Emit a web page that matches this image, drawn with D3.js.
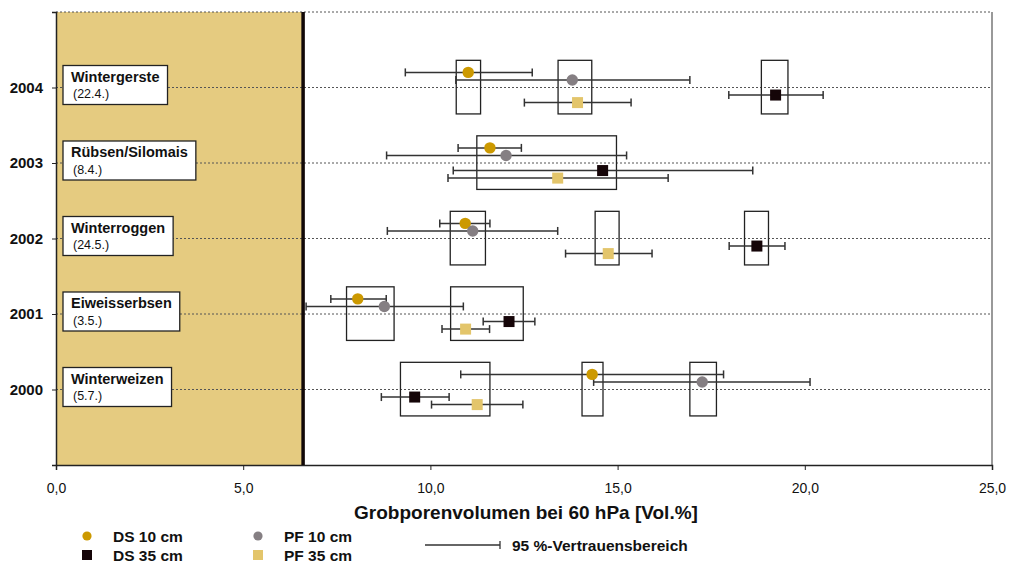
<!DOCTYPE html>
<html><head><meta charset="utf-8">
<script src="https://cdn.jsdelivr.net/npm/d3@7"></script>
<style>body{margin:0;background:#fff}svg{display:block;font-family:"Liberation Sans",Arial,Helvetica,sans-serif}</style>
</head><body><svg id="c" width="1009" height="563"></svg>
<script>
const years = [2000, 2001, 2002, 2003, 2004];
const crops = ["Winterweizen", "Eiweisserbsen", "Winterroggen", "Rübsen/Silomais", "Wintergerste"];
const dates = ["(5.7.)", "(3.5.)", "(24.5.)", "(8.4.)", "(22.4.)"];

const ds10   = [14.32, 8.06, 10.93, 11.59, 11.01];
const ds10Lo = [10.81, 7.34, 10.25, 10.74, 9.33];
const ds10Hi = [17.83, 8.82, 11.59, 12.43, 12.72];
const pf10   = [17.26, 8.77, 11.13, 12.02, 13.79];
const pf10Lo = [14.36, 6.68, 8.85, 8.83, 10.68];
const pf10Hi = [20.14, 10.88, 13.40, 15.24, 16.93];
const ds35   = [9.58, 12.10, 18.72, 14.60, 19.22];
const ds35Lo = [8.69, 11.41, 17.98, 10.61, 17.97];
const ds35Hi = [10.50, 12.79, 19.47, 18.61, 20.49];
const pf35   = [11.25, 10.94, 14.75, 13.40, 13.93];
const pf35Lo = [10.03, 10.31, 13.61, 10.47, 12.51];
const pf35Hi = [12.47, 11.58, 15.92, 16.35, 15.36];

const boxYear = [2000, 2000, 2000, 2001, 2001, 2002, 2002, 2002, 2003, 2004, 2004, 2004];
const boxLo   = [9.20, 14.05, 16.93, 7.76, 10.54, 10.53, 14.40, 18.39, 11.24, 10.69, 13.41, 18.84];
const boxHi   = [11.59, 14.61, 17.64, 9.03, 12.48, 11.47, 15.04, 19.03, 14.97, 11.34, 14.31, 19.55];

const threshold = 6.6;
const xTicks = [0, 5, 10, 15, 20, 25];
const xTickLabels = ["0,0", "5,0", "10,0", "15,0", "20,0", "25,0"];
const xTitle = "Grobporenvolumen bei 60 hPa [Vol.%]";
const seriesNames = ["DS 10 cm", "PF 10 cm", "DS 35 cm", "PF 35 cm"];
const ciLabel = "95 %-Vertrauensbereich";

const svg = d3.select("#c");
const L = 56, R = 992, T = 12, B = 465;
const x = d3.scaleLinear().domain([0, 25]).range([L, R]);
const y = d3.scaleLinear().domain([1999, 2005]).range([B, T]);

const colors = {ds10: "#CC9900", pf10: "#857F83", ds35: "#150508", pf35: "#E3C56B"};
const series = [
  {key: "ds10", v: ds10, lo: ds10Lo, hi: ds10Hi, off: 0.2, shape: "circle"},
  {key: "pf10", v: pf10, lo: pf10Lo, hi: pf10Hi, off: 0.1, shape: "circle"},
  {key: "ds35", v: ds35, lo: ds35Lo, hi: ds35Hi, off: -0.1, shape: "square"},
  {key: "pf35", v: pf35, lo: pf35Lo, hi: pf35Hi, off: -0.2, shape: "square"}
];

// shaded region
svg.append("rect").attr("x", x(0)).attr("y", T).attr("width", x(threshold) - x(0)).attr("height", B - T).attr("fill", "#E5CB80");

// grid lines
svg.append("g").selectAll("line").data(years.concat([2005])).join("line")
  .attr("x1", L).attr("x2", R).attr("y1", d => y(d)).attr("y2", d => y(d))
  .attr("stroke", "#555").attr("stroke-width", 1).attr("stroke-dasharray", "2,2");

// right border
svg.append("line").attr("x1", R).attr("x2", R).attr("y1", T).attr("y2", B).attr("stroke", "#777").attr("stroke-width", 1.5);

// axes
const xAxis = d3.axisBottom(x).tickValues(xTicks).tickSize(5).tickPadding(13).tickFormat((d, i) => xTickLabels[i]);
const gx = svg.append("g").attr("transform", `translate(0,${B})`).call(xAxis);
gx.select(".domain").attr("stroke", "#222").attr("stroke-width", 1.5);
gx.selectAll(".tick line").attr("stroke", "#222");
gx.selectAll("text").attr("font-size", 14).attr("fill", "#111").attr("font-family", "Liberation Sans, Arial, sans-serif");

const yAxis = d3.axisLeft(y).tickValues([1999].concat(years).concat([2005])).tickSize(4).tickPadding(9)
  .tickFormat(d => years.includes(d) ? String(d) : "");
const gy = svg.append("g").attr("transform", `translate(${L},0)`).call(yAxis);
gy.select(".domain").attr("stroke", "#222").attr("stroke-width", 1.5);
gy.selectAll(".tick line").attr("stroke", "#222");
gy.selectAll("text").attr("font-size", 15).attr("font-weight", "bold").attr("fill", "#111").attr("font-family", "Liberation Sans, Arial, sans-serif");

// threshold line
svg.append("line").attr("x1", x(threshold)).attr("x2", x(threshold)).attr("y1", T).attr("y2", B).attr("stroke", "#110808").attr("stroke-width", 3.5);

// group boxes
svg.append("g").selectAll("rect").data(boxYear).join("rect")
  .attr("x", (d, i) => x(boxLo[i])).attr("width", (d, i) => x(boxHi[i]) - x(boxLo[i]))
  .attr("y", d => y(d + 0.36)).attr("height", d => y(d - 0.35) - y(d + 0.36))
  .attr("fill", "none").attr("stroke", "#222").attr("stroke-width", 1.3);

// error bars
const eg = svg.append("g").attr("stroke", "#333").attr("stroke-width", 1.5);
series.forEach(s => {
  years.forEach((yr, i) => {
    const yy = y(yr + s.off);
    eg.append("line").attr("x1", x(s.lo[i])).attr("x2", x(s.hi[i])).attr("y1", yy).attr("y2", yy);
    eg.append("line").attr("x1", x(s.lo[i])).attr("x2", x(s.lo[i])).attr("y1", yy - 4).attr("y2", yy + 4);
    eg.append("line").attr("x1", x(s.hi[i])).attr("x2", x(s.hi[i])).attr("y1", yy - 4).attr("y2", yy + 4);
  });
});

// markers
series.forEach(s => {
  const g = svg.append("g").attr("fill", colors[s.key]);
  if (s.shape === "circle") {
    g.selectAll("circle").data(years).join("circle")
      .attr("cx", (d, i) => x(s.v[i])).attr("cy", d => y(d + s.off)).attr("r", 5.7);
  } else {
    g.selectAll("rect").data(years).join("rect")
      .attr("x", (d, i) => x(s.v[i]) - 5.5).attr("y", d => y(d + s.off) - 5.5).attr("width", 11).attr("height", 11);
  }
});

// crop labels
years.forEach((yr, i) => {
  const g = svg.append("g");
  const top = y(yr) - 22;
  const rect = g.append("rect").attr("x", 63).attr("y", top).attr("height", 39)
    .attr("fill", "#fff").attr("stroke", "#222").attr("stroke-width", 1.3);
  const t = g.append("text").attr("y", top + 16).attr("font-size", 14.5).attr("font-weight", "bold").attr("fill", "#111").text(crops[i]);
  const w = t.node().getBBox().width;
  const bw = w + 16;
  rect.attr("width", bw);
  t.attr("x", 63 + bw / 2).attr("text-anchor", "middle");
  g.append("text").attr("x", 73).attr("y", top + 32.5).attr("font-size", 12.5).attr("fill", "#111").text(dates[i]);
});

// x title
svg.append("text").attr("x", 526).attr("y", 519).attr("text-anchor", "middle").attr("font-size", 19).attr("font-weight", "bold").attr("fill", "#111").text(xTitle);

// legend
const lg = svg.append("g");
const legItems = [
  {key: "ds10", lx: 87, ly: 536, shape: "circle", name: seriesNames[0]},
  {key: "ds35", lx: 87, ly: 555, shape: "square", name: seriesNames[2]},
  {key: "pf10", lx: 258, ly: 536, shape: "circle", name: seriesNames[1]},
  {key: "pf35", lx: 258, ly: 555, shape: "square", name: seriesNames[3]}
];
legItems.forEach(it => {
  if (it.shape === "circle") lg.append("circle").attr("cx", it.lx).attr("cy", it.ly).attr("r", 4.6).attr("fill", colors[it.key]);
  else lg.append("rect").attr("x", it.lx - 5).attr("y", it.ly - 5).attr("width", 10).attr("height", 10).attr("fill", colors[it.key]);
  lg.append("text").attr("x", it.lx + 26).attr("y", it.ly + 5.5).attr("font-size", 15.5).attr("font-weight", "bold").attr("fill", "#111").text(it.name);
});
lg.append("line").attr("x1", 425).attr("x2", 500).attr("y1", 545).attr("y2", 545).attr("stroke", "#333").attr("stroke-width", 1.3);
lg.append("line").attr("x1", 500).attr("x2", 500).attr("y1", 541).attr("y2", 549).attr("stroke", "#333").attr("stroke-width", 1.3);
lg.append("text").attr("x", 512).attr("y", 550.5).attr("font-size", 15.5).attr("font-weight", "bold").attr("fill", "#111").text(ciLabel);
</script></body></html>
